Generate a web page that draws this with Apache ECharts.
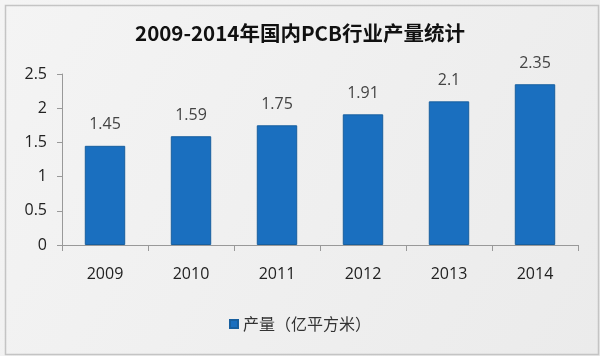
<!DOCTYPE html>
<html><head><meta charset="utf-8">
<script src="https://cdn.jsdelivr.net/npm/echarts@6/dist/echarts.min.js"></script>
<style>html,body{margin:0;padding:0;background:#fff}#c{width:600px;height:356px}</style>
</head><body><div id="c"></div>
<script>
const categories = ['2009','2010','2011','2012','2013','2014'];
const values = [1.45, 1.59, 1.75, 1.91, 2.1, 2.35];
const yTicks = [0, 0.5, 1, 1.5, 2, 2.5];
const titleText = '2009-2014年国内PCB行业产量统计';
const seriesName = '产量（亿平方米）';
const font = '"Noto Sans CJK SC", "Microsoft YaHei", sans-serif';
const numFont = '"Open Sans", "Liberation Sans", Arial, sans-serif';

const chart = echarts.init(document.getElementById('c'), null, {renderer:'canvas'});
chart.setOption({
  backgroundColor: {
    type: 'linear', x: 0, y: 0, x2: 1, y2: 1,
    colorStops: [{offset:0,color:'#f4f4f4'},{offset:1,color:'#ebebeb'}]
  },
  graphic: [{
    type:'rect', left:3, top:3, shape:{width:593, height:349},
    style:{fill:'none', stroke:'#c4c4c4', lineWidth:1.5}, silent:true
  }],
  title: {
    text: titleText, left: 'center', top: 18,
    textStyle: {fontFamily: font, fontSize: 20.5, fontWeight: 'bold', color: '#111'}
  },
  legend: {
    data: [seriesName], bottom: 19, left: 'center',
    itemWidth: 8, itemHeight: 8, itemGap: 5,
    icon: 'rect',
    textStyle: {fontFamily: font, fontSize: 16, color: '#333'}
  },
  grid: {left: 62, right: 22, top: 74, bottom: 111, containLabel: false},
  xAxis: {
    type: 'category', data: categories,
    axisLine: {lineStyle: {color: '#999'}},
    axisTick: {show: true, alignWithLabel: false, length: 6, lineStyle:{color:'#999'}},
    axisLabel: {fontFamily: numFont, fontSize: 16, color: '#222', margin: 21}
  },
  yAxis: {
    type: 'value', min: yTicks[0], max: yTicks[yTicks.length-1], interval: 0.5,
    axisLine: {show: true, lineStyle: {color: '#999'}},
    axisTick: {show: true, length: 5, lineStyle:{color:'#999'}},
    splitLine: {show: false},
    axisLabel: {fontFamily: numFont, fontSize: 16, color: '#222', margin: 15}
  },
  series: [{
    name: seriesName, type: 'bar', data: values,
    barCategoryGap: '53%',
    itemStyle: {color: '#1a6fbf', borderColor: '#175f9f', borderWidth: 1},
    label: {show: true, position: 'top', distance: 13,
      fontFamily: numFont, fontSize: 16, color: '#444'}
  }]
});
</script></body></html>
